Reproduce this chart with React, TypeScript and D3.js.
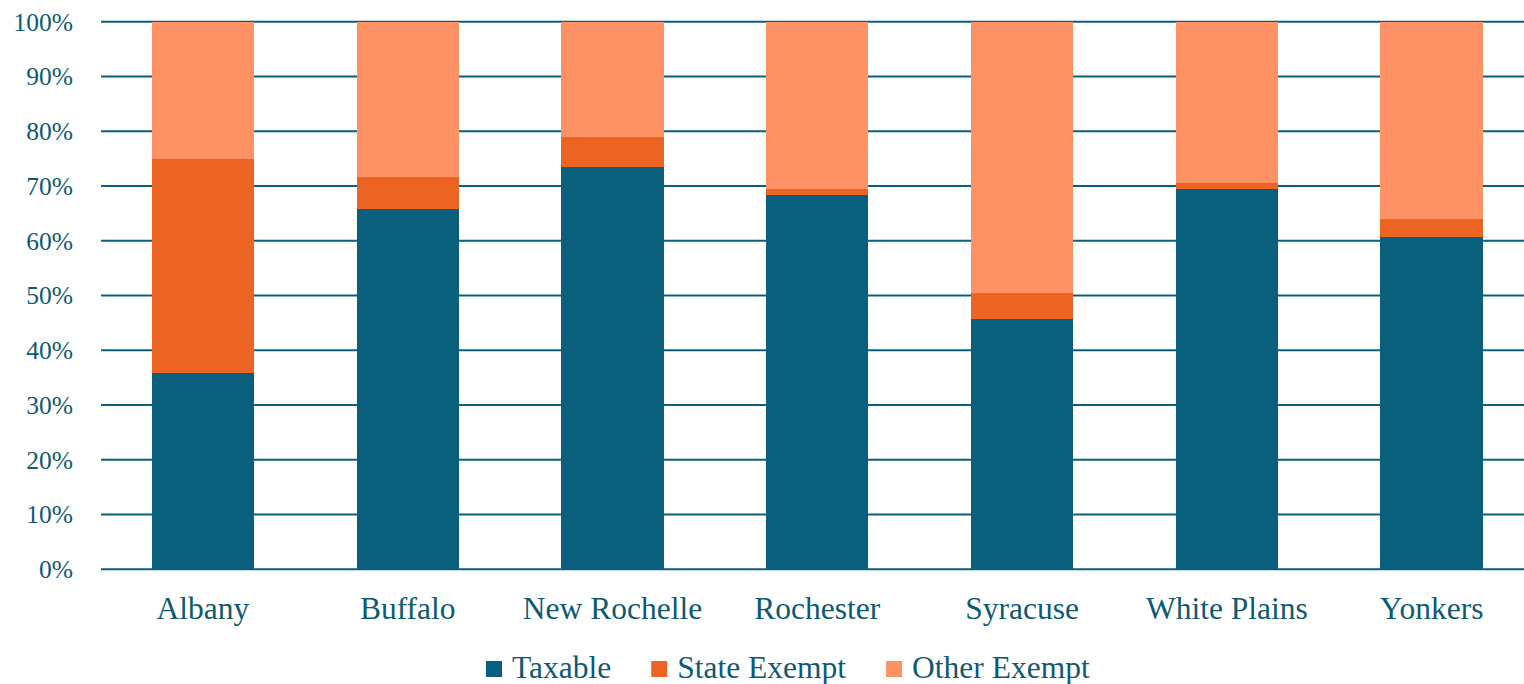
import { useRef, useEffect } from 'react';
import * as d3 from 'd3';

const cities = ['Albany', 'Buffalo', 'New Rochelle', 'Rochester', 'Syracuse', 'White Plains', 'Yonkers'];
const taxable = [0.359, 0.658, 0.735, 0.684, 0.457, 0.695, 0.607];
const stateExempt = [0.39, 0.058, 0.055, 0.011, 0.048, 0.01, 0.033];
const otherExempt = cities.map((_, i) => 1 - taxable[i] - stateExempt[i]);
const seriesNames = ['Taxable', 'State Exempt', 'Other Exempt'];
const seriesColors = ['#0A607C', '#EB6424', '#FF9264'];
const yTicks = [0, 0.1, 0.2, 0.3, 0.4, 0.5, 0.6, 0.7, 0.8, 0.9, 1];

export default function App() {
  const svgRef = useRef<SVGSVGElement>(null);

  useEffect(() => {
    if (!svgRef.current) return;
    const svg = d3.select(svgRef.current);
    svg.selectAll('*').remove();

    const width = 1524;
    const height = 684;
    const textColor = '#0D5A73';
    const font = "'Liberation Serif', 'DejaVu Serif', serif";

    svg.attr('width', width).attr('height', height).style('font-family', font);

    const x = d3.scaleBand<string>()
      .domain(cities)
      .range([100.6, 1534])
      .paddingInner(0.5)
      .paddingOuter(0.25);

    const y = d3.scaleLinear().domain([0, 1]).range([569.3, 21.7]);

    // gridlines
    svg.append('g')
      .selectAll('line')
      .data(yTicks)
      .join('line')
      .attr('x1', 101).attr('x2', width)
      .attr('y1', (d) => y(d)).attr('y2', (d) => y(d))
      .attr('stroke', '#0A607C').attr('stroke-width', 2);

    // tick labels
    svg.append('g')
      .selectAll('text')
      .data(yTicks)
      .join('text')
      .attr('x', 73)
      .attr('y', (d) => y(d))
      .attr('dy', '0.35em')
      .attr('text-anchor', 'end')
      .attr('fill', textColor)
      .style('font-family', font)
      .style('font-size', '25.5px')
      .text((d) => d3.format('.0%')(d));

    // stacked bars
    const rows = cities.map((c, i) => ({ city: c, Taxable: taxable[i], 'State Exempt': stateExempt[i], 'Other Exempt': otherExempt[i] }));
    const stack = d3.stack<any>().keys(seriesNames)(rows);

    stack.forEach((layer, si) => {
      svg.append('g')
        .selectAll('rect')
        .data(layer)
        .join('rect')
        .attr('x', (d) => x(d.data.city)!)
        .attr('width', x.bandwidth())
        .attr('y', (d) => y(d[1]))
        .attr('height', (d) => y(d[0]) - y(d[1]))
        .attr('fill', seriesColors[si])
        .attr('shape-rendering', 'crispEdges');
    });

    // category labels
    svg.append('g')
      .selectAll('text')
      .data(cities)
      .join('text')
      .attr('x', (d) => x(d)! + x.bandwidth() / 2)
      .attr('y', 619)
      .attr('text-anchor', 'middle')
      .attr('fill', textColor)
      .style('font-family', font)
      .style('font-size', '31.5px')
      .text((d) => d);

    // legend
    const legend = svg.append('g');
    let lx = 486;
    seriesNames.forEach((name, i) => {
      legend.append('rect')
        .attr('x', lx).attr('y', 661)
        .attr('width', 16).attr('height', 16)
        .attr('fill', seriesColors[i]);
      const t = legend.append('text')
        .attr('x', lx + 26).attr('y', 678)
        .attr('fill', textColor)
        .style('font-family', font)
        .style('font-size', '31.5px')
        .text(name);
      const w = (t.node() as SVGTextElement).getComputedTextLength();
      lx = lx + 26 + w + 40;
    });
  }, []);

  return (
    <svg ref={svgRef} style={{ position: 'absolute', left: 0, top: 0, background: '#fff' }} />
  );
}
